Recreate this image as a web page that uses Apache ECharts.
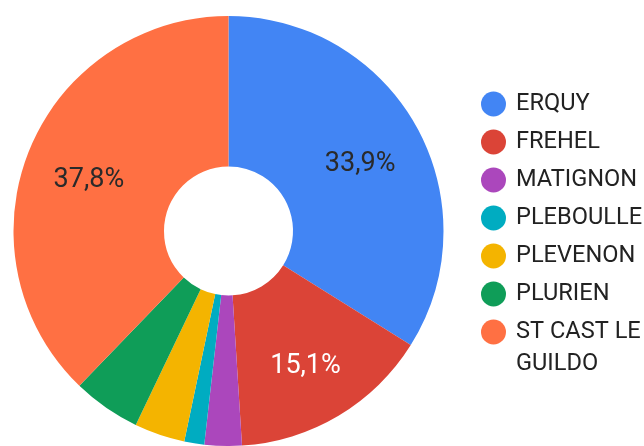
<!DOCTYPE html>
<html>
<head>
<meta charset="utf-8">
<script src="https://cdn.jsdelivr.net/npm/echarts@6/dist/echarts.min.js"></script>
<style>
  html, body { margin: 0; padding: 0; background: #fff; }
  #chart { width: 644px; height: 446px; }
</style>
</head>
<body>
<div id="chart"></div>
<script>
// communes and share (%)
var names = ['ERQUY', 'FREHEL', 'MATIGNON', 'PLEBOULLE', 'PLEVENON', 'PLURIEN', 'ST CAST LE GUILDO']
var shares = [33.9, 15.1, 2.8, 1.5, 3.8, 5.1, 37.8]

var colors = ['#4285f4', '#db4437', '#ab47bc', '#00acc1', '#f4b400', '#0f9d58', '#ff7043']
var labelColors = { 'FREHEL': '#ffffff' }

var chart = echarts.init(document.getElementById('chart'))

var data = names.map(function (n, i) {
  return { name: n, value: shares[i] }
})

var labelData = names.map(function (n, i) {
  return {
    name: n,
    value: shares[i],
    label: { color: labelColors[n] || '#2a2a2a' }
  }
})

var legendBase = {
  orient: 'vertical',
  left: 481,
  padding: 0,
  itemGap: 6,
  itemWidth: 35,
  itemHeight: 25,
  icon: 'circle',
  selectedMode: false,
  textStyle: { fontFamily: 'Roboto', fontSize: 23.6, color: '#222', lineHeight: 32 }
}

chart.setOption({
  animation: false,
  color: colors,
  legend: [
    Object.assign({}, legendBase, {
      top: 88,
      data: names.slice(0, 6)
    }),
    // last entry wraps; blank first line keeps the icon on "ST CAST LE"
    Object.assign({}, legendBase, {
      top: 284,
      formatter: function (name) {
        return ' \nST CAST LE\nGUILDO'
      },
      data: names.slice(6)
    })
  ],
  series: [
    {
      type: 'pie',
      center: [228.5, 231],
      radius: [64.5, 215],
      startAngle: 90,
      clockwise: true,
      label: { show: false },
      labelLine: { show: false },
      emphasis: { disabled: true },
      itemStyle: { borderWidth: 0 },
      data: data
    },
    {
      // transparent copy that only carries the slice labels
      type: 'pie',
      center: [228.5, 231],
      radius: [80, 215],
      startAngle: 90,
      clockwise: true,
      silent: true,
      emphasis: { disabled: true },
      itemStyle: { color: 'rgba(0,0,0,0)', borderWidth: 0 },
      labelLine: { show: false },
      labelLayout: { dy: 6 },
      label: {
        show: true,
        position: 'inside',
        fontFamily: 'Roboto',
        fontSize: 27,
        formatter: function (p) {
          return p.value >= 10 ? p.value.toFixed(1).replace('.', ',') + '%' : ''
        }
      },
      data: labelData
    }
  ]
})
</script>
</body>
</html>
